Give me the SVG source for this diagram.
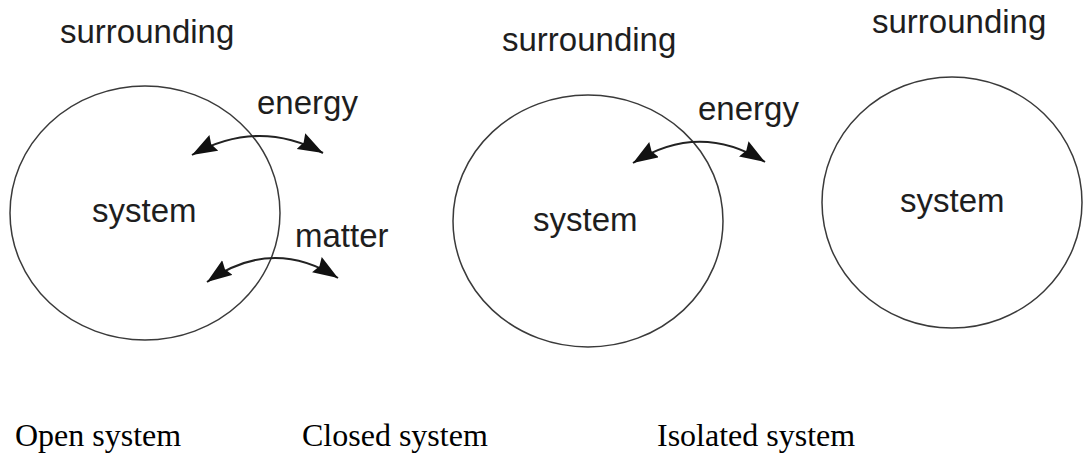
<svg xmlns="http://www.w3.org/2000/svg" width="1083" height="454" viewBox="0 0 1083 454">
<style>
.bd{fill:none;stroke:#3a3a3a;stroke-width:1.5}
.lb{font-family:"Liberation Sans",Arial,sans-serif;font-size:33px;fill:#1e1e1e}
.cap{font-family:"Liberation Serif","Times New Roman",serif;font-size:32px;fill:#000}
.ar{fill:none;stroke:#222;stroke-width:2;marker-start:url(#ah);marker-end:url(#ah)}
</style>
<defs>
<marker id="ah" markerUnits="userSpaceOnUse" markerWidth="28" markerHeight="20" refX="25" refY="9" orient="auto-start-reverse" viewBox="0 0 28 20">
<path d="M0,0 L25,9 L0,18 L3,9 z" fill="#111"/>
</marker>
</defs>
<rect width="1083" height="454" fill="#fff"/>
<g id="open">
<ellipse class="bd" cx="145" cy="213" rx="135" ry="127"/>
<text class="lb" x="60" y="43">surrounding</text>
<text class="lb" x="92" y="222">system</text>
<text class="lb" x="257" y="114">energy</text>
<text class="lb" x="295" y="247">matter</text>
</g>
<g id="closed">
<ellipse class="bd" cx="588" cy="221" rx="135" ry="126"/>
<text class="lb" x="502" y="51">surrounding</text>
<text class="lb" x="533" y="231">system</text>
<text class="lb" x="698" y="120">energy</text>
</g>
<g id="isolated">
<ellipse class="bd" cx="952" cy="202.5" rx="130" ry="125.5"/>
<text class="lb" x="872" y="33">surrounding</text>
<text class="lb" x="900" y="212">system</text>
</g>
<g id="connectors">
<path class="ar" d="M192,155 Q258,118 323,153"/>
<path class="ar" d="M207,282 Q272,236 338,278"/>
<path class="ar" d="M633,163 Q699,121 765,162"/>
</g>
<g id="captions">
<text class="cap" x="15" y="446">Open system</text>
<text class="cap" x="302" y="446">Closed system</text>
<text class="cap" x="657" y="446">Isolated system</text>
</g>
</svg>
